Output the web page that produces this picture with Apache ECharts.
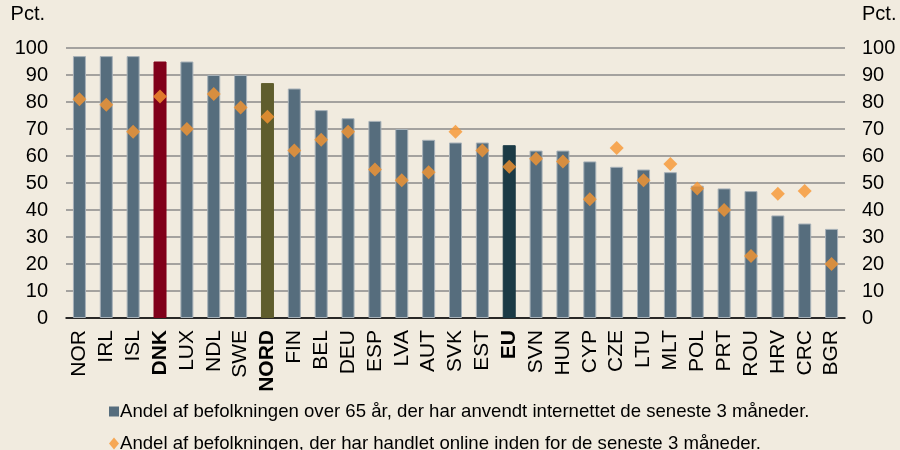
<!DOCTYPE html>
<html>
<head>
<meta charset="utf-8">
<script src="https://cdn.jsdelivr.net/npm/echarts@6/dist/echarts.min.js"></script>
<style>
  html, body { margin: 0; padding: 0; background: #f1ebdf; }
  #chart { width: 900px; height: 450px; }
</style>
</head>
<body>
<div id="chart"></div>
<script>
const categories = ['NOR', 'IRL', 'ISL', 'DNK', 'LUX', 'NDL', 'SWE', 'NORD', 'FIN', 'BEL', 'DEU', 'ESP', 'LVA', 'AUT', 'SVK', 'EST', 'EU', 'SVN', 'HUN', 'CYP', 'CZE', 'LTU', 'MLT', 'POL', 'PRT', 'ROU', 'HRV', 'CRC', 'BGR']
const internetValues = [97, 97, 97, 95, 95, 90, 90, 87, 85, 77, 74, 73, 70, 66, 65, 65, 64, 62, 62, 58, 56, 55, 54, 49, 48, 47, 38, 35, 33]
const onlineValues = [81, 79, 69, 82, 70, 83, 78, 74.5, 62, 66, 69, 55, 51, 54, 69, 62, 56, 59, 58, 44, 63, 51, 57, 48, 40, 23, 46, 47, 20]
const yTicks = [0, 10, 20, 30, 40, 50, 60, 70, 80, 90, 100]
const boldCategories = ['DNK', 'NORD', 'EU']
const specialColors = { DNK: '#80001a', NORD: '#5f5d2d', EU: '#1b3a45' }

const barName = 'Andel af befolkningen over 65 år, der har anvendt internettet de seneste 3 måneder.'
const dotName = 'Andel af befolkningen, der har handlet online inden for de seneste 3 måneder.'

const chart = echarts.init(document.getElementById('chart'))

const yAxisBase = {
  type: 'value',
  min: yTicks[0],
  max: yTicks[yTicks.length - 1],
  interval: 10,
  name: 'Pct.',
  nameLocation: 'end',
  nameGap: 24,
  axisLine: { show: false },
  axisTick: { show: false },
  axisLabel: {
    color: '#000',
    fontSize: 20,
    fontFamily: 'Liberation Sans'
  }
}

const legendText = {
  color: '#000',
  fontSize: 18.6,
  fontFamily: 'Liberation Sans',
  padding: [0, 0, 0, -4]
}

chart.setOption({
  backgroundColor: '#f1ebdf',
  animation: false,
  textStyle: { fontFamily: 'Liberation Sans' },
  grid: {
    left: 66,
    right: 55,
    top: 48,
    bottom: 132
  },
  legend: [
    {
      left: 104,
      top: 397,
      itemWidth: 10,
      itemHeight: 10,
      itemStyle: { borderWidth: 0 },
      textStyle: legendText,
      data: [{ name: barName, icon: 'rect' }]
    },
    {
      left: 104,
      top: 429,
      itemWidth: 10,
      itemHeight: 12,
      textStyle: legendText,
      data: [{ name: dotName, icon: 'diamond' }]
    }
  ],
  xAxis: {
    type: 'category',
    data: categories,
    axisTick: { show: false },
    axisLine: { lineStyle: { color: '#000', width: 1.5 } },
    axisLabel: {
      interval: 0,
      rotate: 90,
      margin: 12,
      color: '#000',
      fontSize: 21,
      fontFamily: 'Liberation Sans',
      formatter: v => boldCategories.includes(v) ? '{b|' + v + '}' : v,
      rich: {
        b: { fontWeight: 'bold', fontSize: 21, fontFamily: 'Liberation Sans', color: '#000' }
      }
    }
  },
  yAxis: [
    Object.assign({}, yAxisBase, {
      position: 'left',
      axisLabel: Object.assign({}, yAxisBase.axisLabel, { margin: 18 }),
      nameTextStyle: { color: '#000', fontSize: 20, align: 'right', padding: [0, 21, 0, 0] },
      splitLine: { lineStyle: { color: '#8a8a8a', width: 1.5 } }
    }),
    Object.assign({}, yAxisBase, {
      position: 'right',
      axisLabel: Object.assign({}, yAxisBase.axisLabel, { margin: 17 }),
      nameTextStyle: { color: '#000', fontSize: 20, align: 'left', padding: [0, 0, 0, 17] },
      splitLine: { show: false }
    })
  ],
  series: [
    {
      name: barName,
      type: 'bar',
      barWidth: 13,
      data: internetValues.map((v, i) => {
        const c = specialColors[categories[i]]
        return c ? { value: v, itemStyle: { color: c, borderColor: c } } : v
      }),
      itemStyle: {
        color: '#566d7d',
        borderColor: '#a7b1b8',
        borderWidth: 1
      }
    },
    {
      name: dotName,
      type: 'scatter',
      symbol: 'diamond',
      symbolSize: 14,
      data: onlineValues,
      itemStyle: { color: '#f89631' },
      z: 3
    }
  ]
})
</script>
</body>
</html>
